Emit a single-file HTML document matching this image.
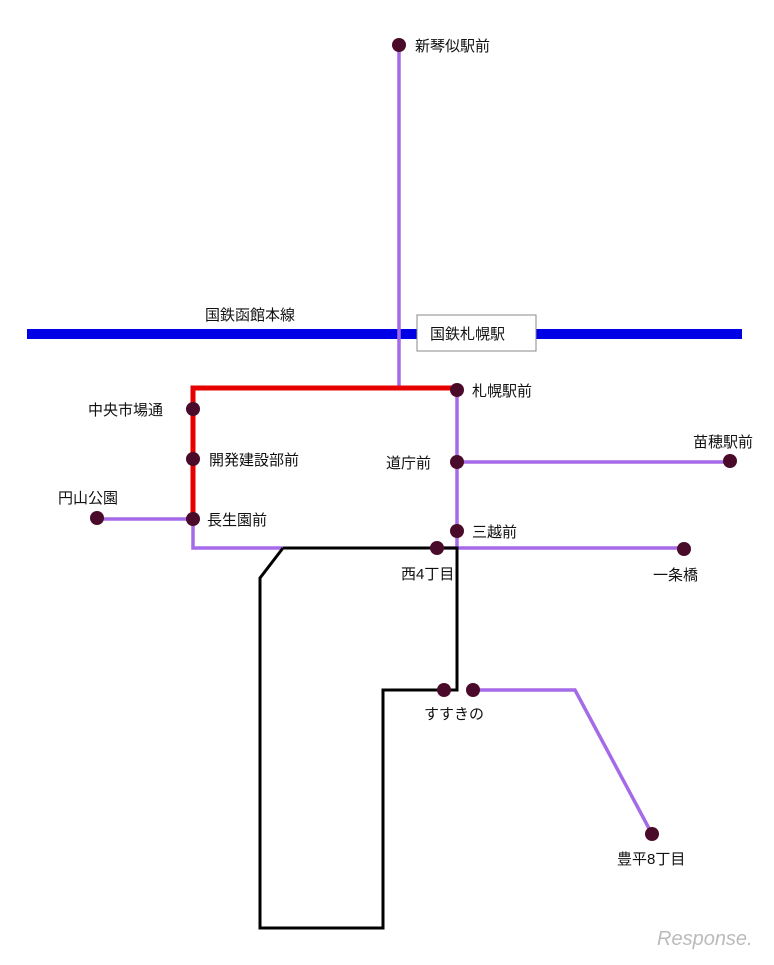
<!DOCTYPE html>
<html><head><meta charset="utf-8"><style>
body{margin:0;background:#fff}
svg text{font-family:"Liberation Sans","Noto Sans CJK JP",sans-serif;font-size:15px;fill:#111}
</style></head><body>
<svg width="774" height="960" viewBox="0 0 774 960" xmlns="http://www.w3.org/2000/svg">
<line x1="27" y1="334" x2="742" y2="334" stroke="#0000e6" stroke-width="10"/>
<rect x="417" y="315" width="119" height="36" fill="#fff" stroke="#888" stroke-width="1"/>
<text x="430" y="339">国鉄札幌駅</text>
<text x="205" y="320">国鉄函館本線</text>
<g stroke="#a56ae8" stroke-width="3.5" fill="none">
<line x1="399" y1="45" x2="399" y2="388"/>
<line x1="457" y1="388" x2="457" y2="548"/>
<line x1="457" y1="462" x2="730" y2="462"/>
<line x1="437" y1="548" x2="684" y2="548"/>
<polyline points="97,519 193,519 193,548 283,548"/>
<polyline points="473,690 575,690 652,834"/>
</g>
<polyline points="457,388 193,388 193,520" stroke="#e60000" stroke-width="5" fill="none"/>
<polyline points="283,548 457,548 457,690 383,690 383,928 260,928 260,578 283,548" stroke="#000" stroke-width="3" fill="none"/>
<g fill="#4a0a2a">
<circle cx="399" cy="45" r="7"/><circle cx="457" cy="390" r="7"/><circle cx="457" cy="462" r="7"/>
<circle cx="457" cy="531" r="7"/><circle cx="730" cy="461" r="7"/><circle cx="684" cy="549" r="7"/>
<circle cx="437" cy="548" r="7"/><circle cx="444" cy="690" r="7"/><circle cx="473" cy="690" r="7"/>
<circle cx="652" cy="834" r="7"/><circle cx="193" cy="409" r="7"/><circle cx="193" cy="459" r="7"/>
<circle cx="193" cy="519" r="7"/><circle cx="97" cy="518" r="7"/>
</g>
<text x="415" y="51">新琴似駅前</text>
<text x="472" y="396">札幌駅前</text>
<text x="386" y="468">道庁前</text>
<text x="472" y="537">三越前</text>
<text x="693" y="447">苗穂駅前</text>
<text x="653" y="580">一条橋</text>
<text x="401" y="579">西4丁目</text>
<text x="424" y="719">すすきの</text>
<text x="617" y="864">豊平8丁目</text>
<text x="88" y="415">中央市場通</text>
<text x="209" y="465">開発建設部前</text>
<text x="207" y="525">長生園前</text>
<text x="58" y="503">円山公園</text>
<text x="657" y="945" style="font-size:20px;fill:#bbb;font-style:italic">Response.</text>
</svg>
</body></html>
